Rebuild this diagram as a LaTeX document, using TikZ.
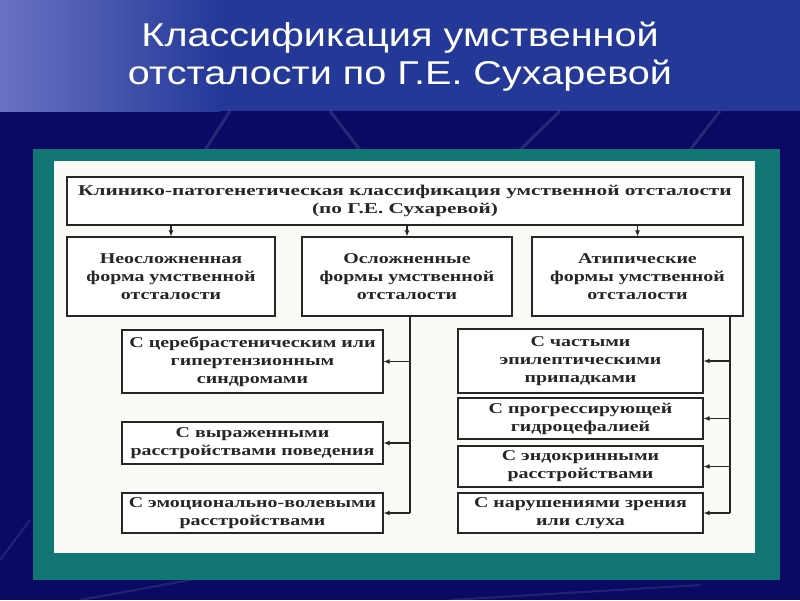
\documentclass[tikz,border=0pt]{standalone}
\usepackage{fontspec}
\usetikzlibrary{arrows.meta}
\setmainfont{Liberation Sans}
\newfontfamily\titlefont[FakeStretch=1.2]{Liberation Sans}
\newfontfamily\diagfont[FakeStretch=1.33]{Liberation Serif Bold}
\newfontfamily\headfont[FakeStretch=1.42]{Liberation Serif Bold}
\definecolor{topband}{RGB}{36,56,152}
\definecolor{topglow}{RGB}{105,115,195}
\definecolor{navy}{RGB}{10,10,100}
\definecolor{tealframe}{RGB}{18,118,116}
\definecolor{panel}{RGB}{250,250,246}
\tikzset{
  bx/.style={draw=black!85, line width=1.1pt, fill=white, align=center, inner sep=0pt,
    font=\diagfont\fontsize{15}{18}\selectfont, text=black!85},
  arr/.style={line width=1.1pt, draw=black!85, -{Latex[length=6pt,width=5pt]}},
  bus/.style={line width=1.1pt, draw=black!85},
  titletext/.style={text=white, font=\titlefont\fontsize{33}{38}\selectfont, align=center}
}
\begin{document}
\begin{tikzpicture}[x=1pt,y=-1pt]
\useasboundingbox (0,0) rectangle (800,600);
% background
\fill[navy] (0,0) rectangle (800,600);
\fill[topband] (0,0) rectangle (800,111);
\shade[left color=topglow, right color=topband] (0,0) rectangle (220,111);
\draw[white, opacity=0.12, line width=3pt] (230,111) -- (205,150) (330,111) -- (360,150) (560,111) -- (520,150) (720,111) -- (690,150);
\draw[white, opacity=0.10, line width=2pt] (0,560) -- (30,520) (80,600) -- (300,560) (450,600) -- (700,585);
% title
\node[titletext] (title) at (400,57) {Классификация умственной\\отсталости по Г.Е. Сухаревой};
% frame
\fill[tealframe] (33,149) rectangle (780,580);
\fill[panel] (54,161) rectangle (755,553);
% boxes
\node[bx, font=\headfont\fontsize{15}{17.5}\selectfont, minimum width=676pt, minimum height=48pt] (top) at (405,201)
  {Клинико-патогенетическая классификация умственной отсталости\\(по Г.Е. Сухаревой)};
\node[bx, minimum width=208pt, minimum height=79pt] (A) at (171,276.5)
  {Неосложненная\\форма умственной\\отсталости};
\node[bx, minimum width=210pt, minimum height=79pt] (B) at (407,276.5)
  {Осложненные\\формы умственной\\отсталости};
\node[bx, minimum width=211pt, minimum height=79pt] (C) at (637.5,276.5)
  {Атипические\\формы умственной\\отсталости};
\node[bx, minimum width=261pt, minimum height=63pt] (L1) at (252.5,361.5)
  {С церебрастеническим или\\гипертензионным\\синдромами};
\node[bx, minimum width=261pt, minimum height=42pt] (L2) at (252.5,443)
  {С выраженными\\расстройствами поведения};
\node[bx, minimum width=261pt, minimum height=40pt] (L3) at (252.5,513)
  {С эмоционально-волевыми\\расстройствами};
\node[bx, minimum width=245pt, minimum height=64pt] (R1) at (580.5,361)
  {С частыми\\эпилептическими\\припадками};
\node[bx, minimum width=245pt, minimum height=41pt] (R2) at (580.5,418.5)
  {С прогрессирующей\\гидроцефалией};
\node[bx, minimum width=245pt, minimum height=41pt] (R3) at (580.5,466.5)
  {С эндокринными\\расстройствами};
\node[bx, minimum width=245pt, minimum height=40pt] (R4) at (580.5,513)
  {С нарушениями зрения\\или слуха};
% connectors
\draw[arr] (top.south -| A.north) -- (A.north);
\draw[arr] (top.south -| B.north) -- (B.north);
\draw[arr] (top.south -| C.north) -- (C.north);
\coordinate (lbus) at (410,0);
\coordinate (rbus) at (730,0);
\draw[bus] (B.south -| lbus) -- (L3.east -| lbus);
\draw[bus] (C.south -| rbus) -- (R4.east -| rbus);
\foreach \n in {L1,L2,L3} \draw[arr] (\n.east -| lbus) -- (\n.east);
\foreach \n in {R1,R2,R3,R4} \draw[arr] (\n.east -| rbus) -- (\n.east);
\end{tikzpicture}
\end{document}
